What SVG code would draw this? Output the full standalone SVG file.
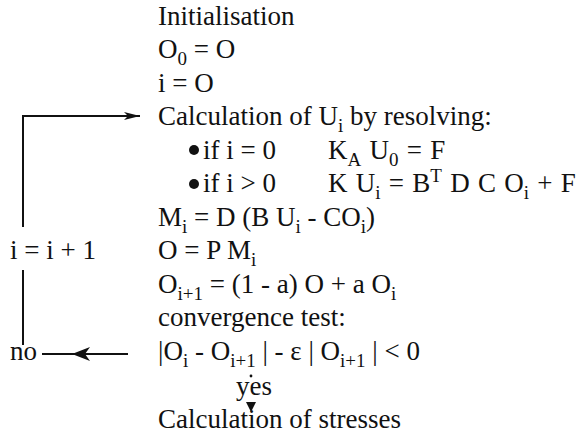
<svg xmlns="http://www.w3.org/2000/svg" width="582" height="438" viewBox="0 0 582 438">
<style>
text{font-family:"Liberation Serif","Times New Roman",serif;font-size:27px;fill:#111}
.s{font-size:19px}
.k{word-spacing:1.5px}
.ln{stroke:#111;stroke-width:2;fill:none}
</style>
<defs>
<marker id="ah" viewBox="0 0 16 10" refX="16" refY="5" markerWidth="16" markerHeight="10" markerUnits="userSpaceOnUse" orient="auto">
<path d="M0,1 L16,5 L0,9 L4,5 Z" fill="#111"/>
</marker>
</defs>
<rect width="582" height="438" fill="#fff"/>
<g id="init"><text x="158" y="25">Initialisation</text></g>
<g id="o0"><text x="158" y="58">O<tspan class="s" dy="7">0</tspan><tspan dy="-7"> = O</tspan></text></g>
<g id="i0"><text x="158" y="92">i = O</text></g>
<g id="calcU"><text x="158" y="125">Calculation of U<tspan class="s" dy="7">i</tspan><tspan dy="-7"> by resolving:</tspan></text></g>
<g id="case0">
<circle cx="194" cy="150" r="5" fill="#111"/>
<text x="203" y="159">if i = 0</text>
<text class="k" x="328" y="159">K<tspan class="s" dy="7">A</tspan><tspan dy="-7"> U</tspan><tspan class="s" dy="7">0</tspan><tspan dy="-7"> = F</tspan></text>
</g>
<g id="case1">
<circle cx="194" cy="184" r="5" fill="#111"/>
<text x="203" y="192">if i &gt; 0</text>
<text class="k" x="328" y="192">K U<tspan class="s" dy="7">i</tspan><tspan dy="-7"> = B</tspan><tspan class="s" dy="-10">T</tspan><tspan dy="10"> D C O</tspan><tspan class="s" dy="7">i</tspan><tspan dy="-7"> + F</tspan></text>
</g>
<g id="mi"><text x="158" y="226">M<tspan class="s" dy="7">i</tspan><tspan dy="-7"> = D (B U</tspan><tspan class="s" dy="7">i</tspan><tspan dy="-7"> - CO</tspan><tspan class="s" dy="7">i</tspan><tspan dy="-7">)</tspan></text></g>
<g id="opm"><text x="158" y="259">O = P M<tspan class="s" dy="7">i</tspan></text></g>
<g id="inc"><text x="10" y="259">i = i + 1</text></g>
<g id="oi1"><text x="158" y="293">O<tspan class="s" dy="7">i+1</tspan><tspan dy="-7"> = (1 - a) O + a O</tspan><tspan class="s" dy="7">i</tspan></text></g>
<g id="conv"><text x="158" y="326">convergence test:</text></g>
<g id="test"><text x="158" y="360">|O<tspan class="s" dy="7">i</tspan><tspan dy="-7"> - O</tspan><tspan class="s" dy="7">i+1</tspan><tspan dy="-7"> | - ε | O</tspan><tspan class="s" dy="7">i+1</tspan><tspan dy="-7"> | &lt; 0</tspan></text></g>
<g id="no"><text x="10" y="360">no</text></g>
<g id="yes"><text x="236" y="395">yes</text></g>
<g id="stress"><text x="158" y="428">Calculation of stresses</text></g>
<g id="connectors">
<path class="ln" d="M23,227 V116 H140" marker-end="url(#ah)"/>
<path class="ln" d="M23,270 V345"/>
<path class="ln" d="M128,354 H42"/>
<path d="M72,354 L90,347 L85,354 L90,361 Z" fill="#111"/>
<circle cx="251" cy="376" r="1.4" fill="#111"/>
<path d="M246,402 L256,402 L251,412 Z" fill="#111"/>
</g>
</svg>
